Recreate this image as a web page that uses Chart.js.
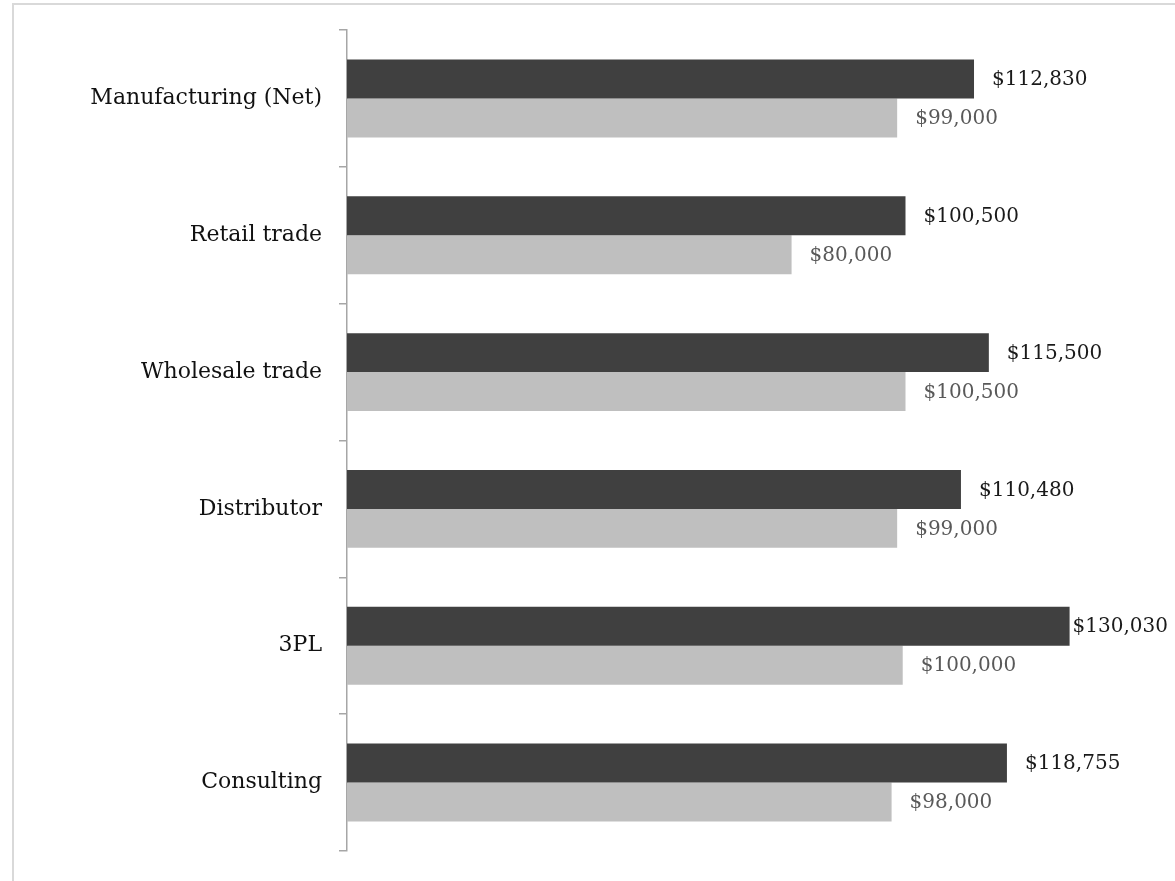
<!DOCTYPE html>
<html>
<head>
<meta charset="utf-8">
<script src="https://cdn.jsdelivr.net/npm/chart.js@4.4.1/dist/chart.umd.min.js"></script>
<style>
  html, body { margin: 0; padding: 0; background: #fff; overflow: hidden; }
  #wrap { position: relative; width: 1175px; height: 881px; }
</style>
</head>
<body>
<div id="wrap"><canvas id="salaryChart" width="1175" height="881"></canvas></div>
<script>
// DATA
let industries = [
    "Manufacturing (Net)",
    "Retail trade",
    "Wholesale trade",
    "Distributor",
    "3PL",
    "Consulting"
];
let darkSeries = [112830, 100500, 115500, 110480, 130030, 118755];
let lightSeries = [99000, 80000, 100500, 99000, 100000, 98000];

let darkColor = '#404040';
let lightColor = '#bfbfbf';
let labelFont = '"DejaVu Serif", serif';

// frame around the whole chart
let framePlugin = {
    id: 'frame',
    beforeDraw(chart) {
        let ctx = chart.ctx;
        ctx.save();
        ctx.strokeStyle = '#d9d9d9';
        ctx.lineWidth = 2;
        ctx.strokeRect(13, 4, 1200, 900);
        ctx.restore();
    }
};

// dollar labels just past the end of each bar, pulled back in if they would run off the edge
let valueLabels = {
    id: 'valueLabels',
    afterDatasetsDraw(chart) {
        let ctx = chart.ctx;
        ctx.save();
        ctx.font = '20px ' + labelFont;
        ctx.textBaseline = 'middle';
        ctx.textAlign = 'left';
        chart.data.datasets.forEach((ds, i) => {
            let meta = chart.getDatasetMeta(i);
            ctx.fillStyle = i === 0 ? '#1a1a1a' : '#595959';
            meta.data.forEach((bar, j) => {
                let txt = '$' + ds.data[j].toLocaleString('en-US');
                let w = ctx.measureText(txt).width;
                let x = Math.min(bar.x + 18, chart.width - 7 - w);
                ctx.fillText(txt, x, bar.y + 1);
            });
        });
        ctx.restore();
    }
};

let salaryCtx = document.getElementById('salaryChart').getContext('2d');
let salaryChart = new Chart(salaryCtx, {
    type: 'bar',
    data: {
        labels: industries,
        datasets: [{
            label: 'Current',
            data: darkSeries,
            backgroundColor: darkColor,
            borderWidth: 0,
            categoryPercentage: 0.57,
            barPercentage: 1.0
        }, {
            label: 'Previous',
            data: lightSeries,
            backgroundColor: lightColor,
            borderWidth: 0,
            categoryPercentage: 0.57,
            barPercentage: 1.0
        }]
    },
    options: {
        indexAxis: 'y',
        responsive: false,
        animation: false,
        layout: { padding: { top: 30, bottom: 23, left: 0, right: 50 } },
        plugins: {
            legend: { display: false },
            tooltip: { enabled: false }
        },
        scales: {
            x: {
                display: false,
                min: 0,
                max: 140000
            },
            y: {
                afterFit(scale) { scale.width = 347; },
                border: { display: true, color: '#a6a6a6', width: 1.5 },
                grid: {
                    offset: true,
                    drawOnChartArea: false,
                    drawTicks: true,
                    tickLength: 8,
                    color: '#a6a6a6',
                    lineWidth: 1.5
                },
                ticks: {
                    color: '#111',
                    padding: 17,
                    font: { family: labelFont, size: 22 }
                }
            }
        }
    },
    plugins: [framePlugin, valueLabels]
});
</script>
</body>
</html>
